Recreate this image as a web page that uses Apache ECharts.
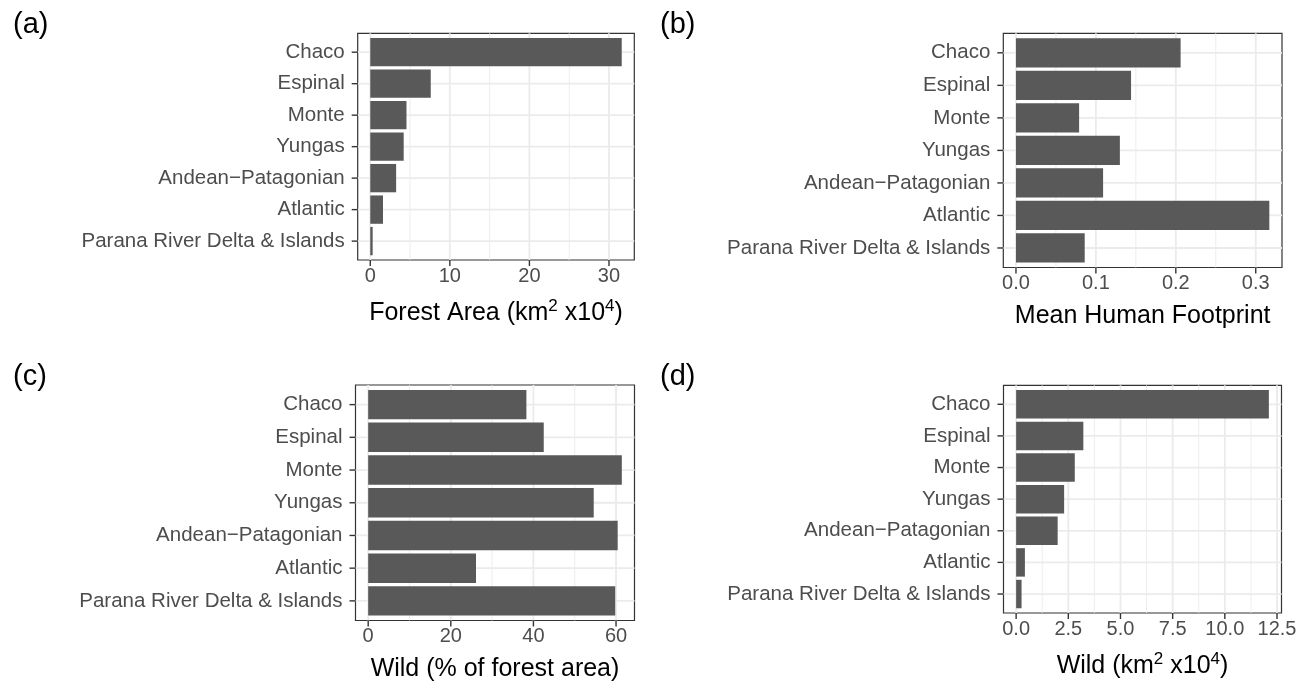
<!DOCTYPE html>
<html>
<head>
<meta charset="utf-8">
<script src="https://cdn.jsdelivr.net/npm/echarts@6/dist/echarts.min.js"></script>
<style>
  html, body { margin: 0; padding: 0; background: #fff; }
  #chart { width: 1300px; height: 685px; }
</style>
</head>
<body>
<div id="chart"></div>
<script>
const categories = ['Chaco', 'Espinal', 'Monte', 'Yungas', 'Andean\u2212Patagonian', 'Atlantic', 'Parana River Delta & Islands'];

// panel values
const forestArea = [31.6, 7.6, 4.55, 4.2, 3.25, 1.6, 0.3];
const humanFootprint = [0.206, 0.144, 0.079, 0.13, 0.109, 0.317, 0.086];
const wildPct = [38.3, 42.5, 61.4, 54.6, 60.4, 26.1, 59.8];
const wildArea = [12.11, 3.22, 2.81, 2.3, 1.99, 0.42, 0.26];

// x tick labels (major) and minor grid positions
const ticksA = [0, 10, 20, 30];
const minorA = [5, 15, 25];
const ticksB = [0, 0.1, 0.2, 0.3];
const minorB = [0.05, 0.15, 0.25];
const ticksC = [0, 20, 40, 60];
const minorC = [10, 30, 50];
const ticksD = [0, 2.5, 5, 7.5, 10, 12.5];
const minorD = [1.25, 3.75, 6.25, 8.75, 11.25];

const FONT = '"Liberation Sans", Arial, Helvetica, sans-serif';
const oneDecimal = v => v.toFixed(1);
const catIdx = categories.map((_, k) => k);

const panels = [
  { tag: '(a)', values: forestArea, ticks: ticksA, minor: minorA, fmt: v => String(v),
    name: '{t|Forest Area (km}{s|2}{t| x10}{s|4}{t|)}', nameGap: 38,
    box: { left: 357.7, top: 33.3, width: 276.6, height: 226.7 }, tagPos: [13, 26] },
  { tag: '(b)', values: humanFootprint, ticks: ticksB, minor: minorB, fmt: oneDecimal,
    name: '{t|Mean Human Footprint}', nameGap: 34,
    box: { left: 1003.3, top: 33.3, width: 278.7, height: 234.2 }, tagPos: [660, 26] },
  { tag: '(c)', values: wildPct, ticks: ticksC, minor: minorC, fmt: v => String(v),
    name: '{t|Wild (% of forest area)}', nameGap: 34,
    box: { left: 355.5, top: 385, width: 279, height: 235.5 }, tagPos: [13, 378] },
  { tag: '(d)', values: wildArea, ticks: ticksD, minor: minorD, fmt: oneDecimal,
    name: '{t|Wild (km}{s|2}{t| x10}{s|4}{t|)}', nameGap: 38,
    box: { left: 1003.5, top: 385.3, width: 278, height: 227.7 }, tagPos: [660, 378] }
];

const gridColor = '#EBEBEB';
const tickColor = '#333333';
const TICK = 6;

// vertical grid line (+ tick below the panel for majors):
// value 0 = x position, value 1 = 1 for major, 0 for minor
function vLine(params, api) {
  const cs = params.coordSys;
  const x = api.coord([api.value(0), 0])[0];
  const major = api.value(1) === 1;
  const children = [{
    type: 'line',
    shape: { x1: x, y1: cs.y, x2: x, y2: cs.y + cs.height },
    style: { stroke: gridColor, lineWidth: major ? 1.8 : 0.9 }
  }];
  if (major) {
    children.push({
      type: 'line',
      shape: { x1: x, y1: cs.y + cs.height, x2: x, y2: cs.y + cs.height + TICK },
      style: { stroke: tickColor, lineWidth: 1.4 }
    });
  }
  return { type: 'group', children };
}

// horizontal grid line at a category position, with its tick left of the panel
function hLine(params, api) {
  const cs = params.coordSys;
  const y = api.coord([0, api.value(0)])[1];
  return {
    type: 'group',
    children: [
      { type: 'line', shape: { x1: cs.x, y1: y, x2: cs.x + cs.width, y2: y }, style: { stroke: gridColor, lineWidth: 1.8 } },
      { type: 'line', shape: { x1: cs.x - TICK, y1: y, x2: cs.x, y2: y }, style: { stroke: tickColor, lineWidth: 1.4 } }
    ]
  };
}

const grid = [], xAxis = [], yAxis = [], series = [], graphic = [];

panels.forEach((p, i) => {
  const maxV = Math.max(...p.values);
  // ggplot default: 5% expansion on the value axis, 0.6 of a band on the discrete one
  const xMin = -0.05 * maxV, xMax = 1.05 * maxV;
  const nBands = categories.length + 0.2;
  const inset = p.box.height * 0.1 / nBands;

  const outer = 2 * i, inner = 2 * i + 1;

  // outer grid: panel border, labels, grid lines and ticks
  grid.push(Object.assign({ show: true, borderColor: '#333333', borderWidth: 1.2, backgroundColor: '#fff' }, p.box));
  // inner grid: the bars on a category scale
  grid.push({ left: p.box.left, width: p.box.width, top: p.box.top + inset, height: p.box.height - 2 * inset });

  xAxis.push({
    type: 'value', gridIndex: outer, min: xMin, max: xMax,
    axisLine: { show: false },
    axisTick: { show: false },
    axisLabel: { customValues: p.ticks, formatter: p.fmt, color: '#4D4D4D', fontSize: 20, fontFamily: FONT, margin: 6 },
    splitLine: { show: false },
    name: p.name,
    nameLocation: 'middle',
    nameGap: p.nameGap,
    nameTextStyle: {
      rich: {
        t: { fontSize: 25, lineHeight: 30, color: '#000', fontFamily: FONT },
        s: { fontSize: 17, lineHeight: 16, verticalAlign: 'top', color: '#000', fontFamily: FONT }
      }
    }
  });
  xAxis.push({ type: 'value', gridIndex: inner, min: xMin, max: xMax, show: false, splitLine: { show: false } });

  yAxis.push({
    type: 'value', gridIndex: outer, inverse: true,
    min: -0.6, max: categories.length - 0.4,
    axisLine: { show: false },
    axisTick: { show: false },
    axisLabel: { customValues: catIdx, formatter: v => categories[Math.round(v)], color: '#4D4D4D', fontSize: 20.5, fontFamily: FONT, margin: 13 },
    splitLine: { show: false }
  });
  yAxis.push({ type: 'category', gridIndex: inner, data: categories, inverse: true, show: false });

  series.push({
    type: 'custom', xAxisIndex: outer, yAxisIndex: outer, silent: true, z: 1, clip: false,
    data: p.minor.map(v => [v, 0]).concat(p.ticks.map(v => [v, 1])),
    encode: { x: 0 },
    renderItem: vLine
  });
  series.push({
    type: 'custom', xAxisIndex: outer, yAxisIndex: outer, silent: true, z: 1, clip: false,
    data: catIdx.map(k => [k]),
    encode: { y: 0 },
    renderItem: hLine
  });

  series.push({
    type: 'bar', xAxisIndex: inner, yAxisIndex: inner,
    data: p.values, barWidth: '90%',
    itemStyle: { color: '#595959' },
    z: 3, silent: true, animation: false
  });

  graphic.push({
    type: 'text',
    left: p.tagPos[0],
    top: p.tagPos[1] - 16,
    style: { text: p.tag, fontSize: 29, fill: '#000', fontFamily: FONT }
  });
});

const chart = echarts.init(document.getElementById('chart'), null, { renderer: 'canvas' });
chart.setOption({
  backgroundColor: '#fff',
  animation: false,
  grid,
  xAxis,
  yAxis,
  series,
  graphic
});
</script>
</body>
</html>
